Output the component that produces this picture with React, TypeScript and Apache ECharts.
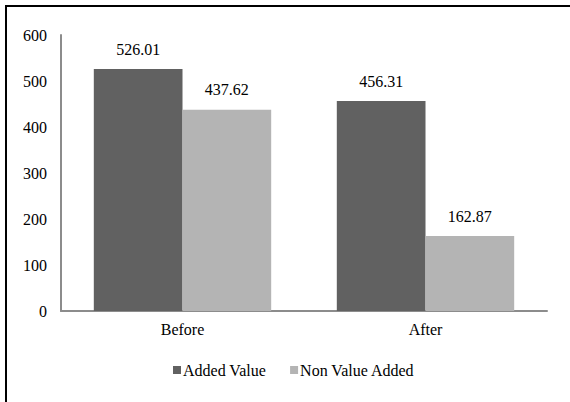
import React, { useEffect, useRef } from "react";
import * as echarts from "echarts";

const categories = ["Before", "After"];
const addedValue = [526.01, 456.31];
const nonValueAdded = [437.62, 162.87];
const seriesNames = ["Added Value", "Non Value Added"];

const FONT = "Times New Roman, Liberation Serif, serif";

export default function App() {
  const ref = useRef<HTMLDivElement>(null);
  useEffect(() => {
    if (!ref.current) return;
    const chart = echarts.init(ref.current, undefined, { renderer: "svg" });
    const lbl = {
      show: true,
      position: "top",
      distance: 12,
      fontFamily: FONT,
      fontSize: 16,
      color: "#000",
      formatter: (p: any) => p.value.toFixed(2),
    };
    chart.setOption({
      animation: false,
      backgroundColor: "#ffffff",
      textStyle: { fontFamily: FONT, color: "#000" },
      graphic: [
        {
          type: "rect",
          shape: { x: 6, y: 6, width: 700, height: 600 },
          style: { fill: "none", stroke: "#000", lineWidth: 2 },
          silent: true,
        },
      ],
      grid: { left: 61, right: 23, top: 35, bottom: 91, containLabel: false },
      legend: {
        top: 362,
        left: 173,
        padding: 0,
        itemWidth: 8,
        itemHeight: 8,
        itemGap: 24,
        icon: "rect",
        textStyle: { fontFamily: FONT, fontSize: 16, color: "#000", padding: [0, 0, 0, -3] },
        data: seriesNames,
      },
      xAxis: {
        type: "category",
        data: categories,
        axisLine: { lineStyle: { color: "#8c8c8c", width: 2 } },
        axisTick: { show: false },
        axisLabel: { fontFamily: FONT, fontSize: 16, color: "#000", margin: 10 },
      },
      yAxis: {
        type: "value",
        min: 0,
        max: 600,
        interval: 100,
        splitLine: { show: false },
        axisLine: { show: true, lineStyle: { color: "#8c8c8c", width: 2 } },
        axisTick: { show: false },
        axisLabel: { fontFamily: FONT, fontSize: 16, color: "#000", margin: 14 },
      },
      series: [
        {
          name: seriesNames[0],
          type: "bar",
          data: addedValue,
          barGap: "0%",
          barCategoryGap: "27%",
          itemStyle: { color: "#616161" },
          label: lbl,
        },
        {
          name: seriesNames[1],
          type: "bar",
          data: nonValueAdded,
          barGap: "0%",
          barCategoryGap: "27%",
          itemStyle: { color: "#b4b4b4" },
          label: lbl,
        },
      ],
    });
    return () => chart.dispose();
  }, []);
  return (
    <div
      ref={ref}
      style={{ position: "absolute", left: 0, top: 0, width: 570, height: 402 }}
    />
  );
}
